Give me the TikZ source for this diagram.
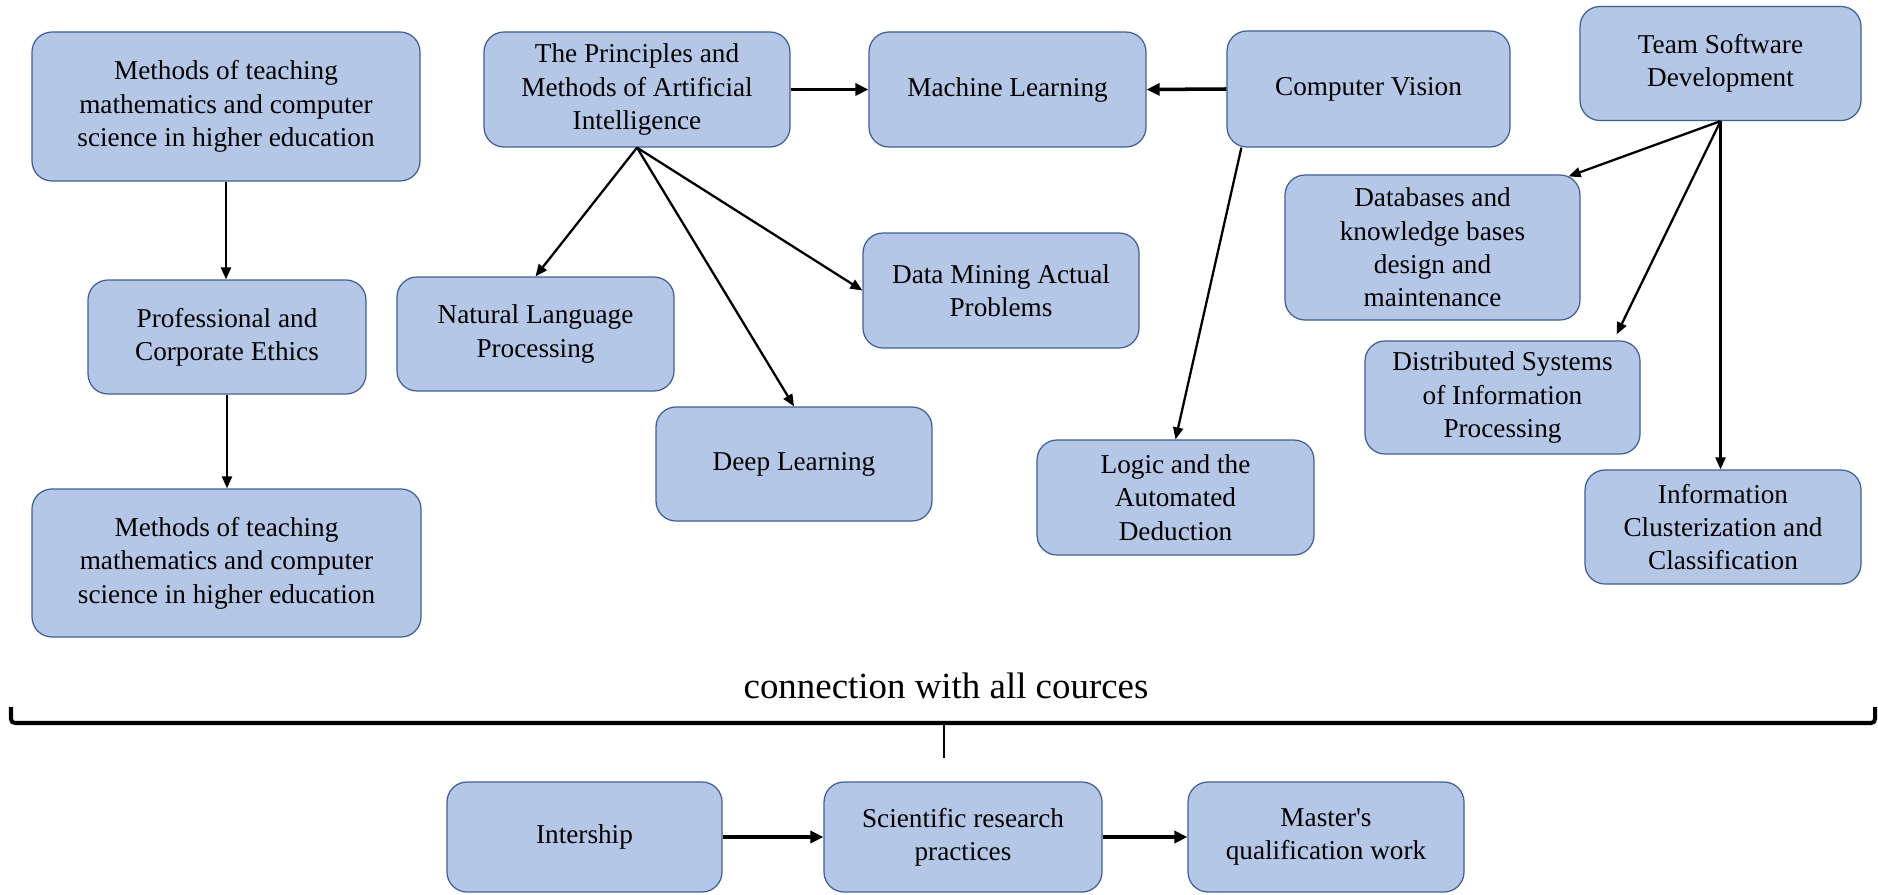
\documentclass[tikz,border=0pt]{standalone}
\usepackage{fontspec}
\setmainfont{Liberation Serif}
\usetikzlibrary{arrows.meta,calc}
\definecolor{boxfill}{HTML}{B4C7E7}
\definecolor{boxline}{HTML}{3F5F93}
\tikzset{
  box/.style={draw=boxline, fill=boxfill, rounded corners=0.4cm, line width=0.7pt,
    align=center, inner sep=0pt, text=black, font=\fontsize{15.5}{19}\selectfont},
  sz/.style 2 args={minimum width=#1*0.02cm, minimum height=#2*0.02cm},
  arr/.style={-{Triangle[length=0.24cm,width=0.2cm]}, line width=1.3pt},
  thickarr/.style={-{Triangle[length=0.26cm,width=0.24cm]}, line width=2pt},
}
\begin{document}
\begin{tikzpicture}[x=0.02cm, y=-0.02cm]
\useasboundingbox (0,0) rectangle (1878,895);
% left column
\node[box, sz={388}{149}] (A) at (226,106.5) {Methods of teaching\\ mathematics and computer\\ science in higher education};
\node[box, sz={278}{114}] (B) at (227,337) {Professional and\\ Corporate Ethics};
\node[box, sz={389}{148}] (C) at (226.5,563) {Methods of teaching\\ mathematics and computer\\ science in higher education};
% AI group
\node[box, sz={306}{115}] (D) at (637,89.5) {The Principles and\\ Methods of Artificial\\ Intelligence};
\node[box, sz={277}{115}] (E) at (1007.5,89.5) {Machine Learning};
\node[box, sz={283}{116}] (F) at (1368.5,89) {Computer Vision};
\node[box, sz={276}{115}] (L) at (1001,290.5) {Data Mining Actual\\ Problems};
\node[box, sz={277}{114}] (M) at (535.5,334) {Natural Language\\ Processing};
\node[box, sz={276}{114}] (N) at (794,464) {Deep Learning};
\node[box, sz={277}{115}] (K) at (1175.5,497.5) {Logic and the\\ Automated\\ Deduction};
% software group
\node[box, sz={281}{114}] (G) at (1720.5,63.5) {Team Software\\ Development};
\node[box, sz={295}{145}] (H) at (1432.5,247.5) {Databases and\\ knowledge bases\\ design and\\ maintenance};
\node[box, sz={275}{113}] (I) at (1502.5,397.5) {Distributed Systems\\ of Information\\ Processing};
\node[box, sz={276}{114}] (J) at (1723,527) {Information\\ Clusterization and\\ Classification};
% bottom row
\node[box, sz={275}{110}] (Int) at (584.5,837) {Intership};
\node[box, sz={278}{110}] (Sci) at (963,837) {Scientific research\\ practices};
\node[box, sz={276}{110}] (Mas) at (1326,837) {Master\textquotesingle s\\ qualification work};
% connectors
\draw[arr] (A.south) -- (A.south |- B.north);
\draw[arr] (B.south) -- (B.south |- C.north);
\draw[thickarr] (D.east) -- (E.west);
\draw[thickarr] (F.west) -- (E.east);
\draw[arr] (D.south) -- (M.north);
\draw[arr] (D.south) -- (N.north);
\draw[arr] (D.south) -- (L.west);
\draw[arr] ([xshift=0.3cm]F.south west) -- (K.north);
\draw[arr] (G.south) -- ([xshift=-0.24cm,yshift=-0.04cm]H.north east);
\draw[arr] (G.south) -- ([xshift=-0.48cm,yshift=0.12cm]I.north east);
\draw[arr] (G.south) -- (G.south |- J.north);
\draw[thickarr] (Int.east) -- (Sci.west);
\draw[thickarr] (Sci.east) -- (Mas.west);
% bracket
\node[font=\fontsize{21}{25}\selectfont, anchor=base, inner sep=0pt] (lbl) at (946,698) {connection with all cources};
\coordinate (bl) at (11,707);
\coordinate (br) at (1875,707);
\coordinate (bm) at (944,723);
\coordinate (bt) at (944,758);
\draw[line width=2.3pt, rounded corners=0.08cm] (bl) |- (bm) -| (br);
\draw[line width=1.5pt] (bm) -- (bt);
\end{tikzpicture}
\end{document}
